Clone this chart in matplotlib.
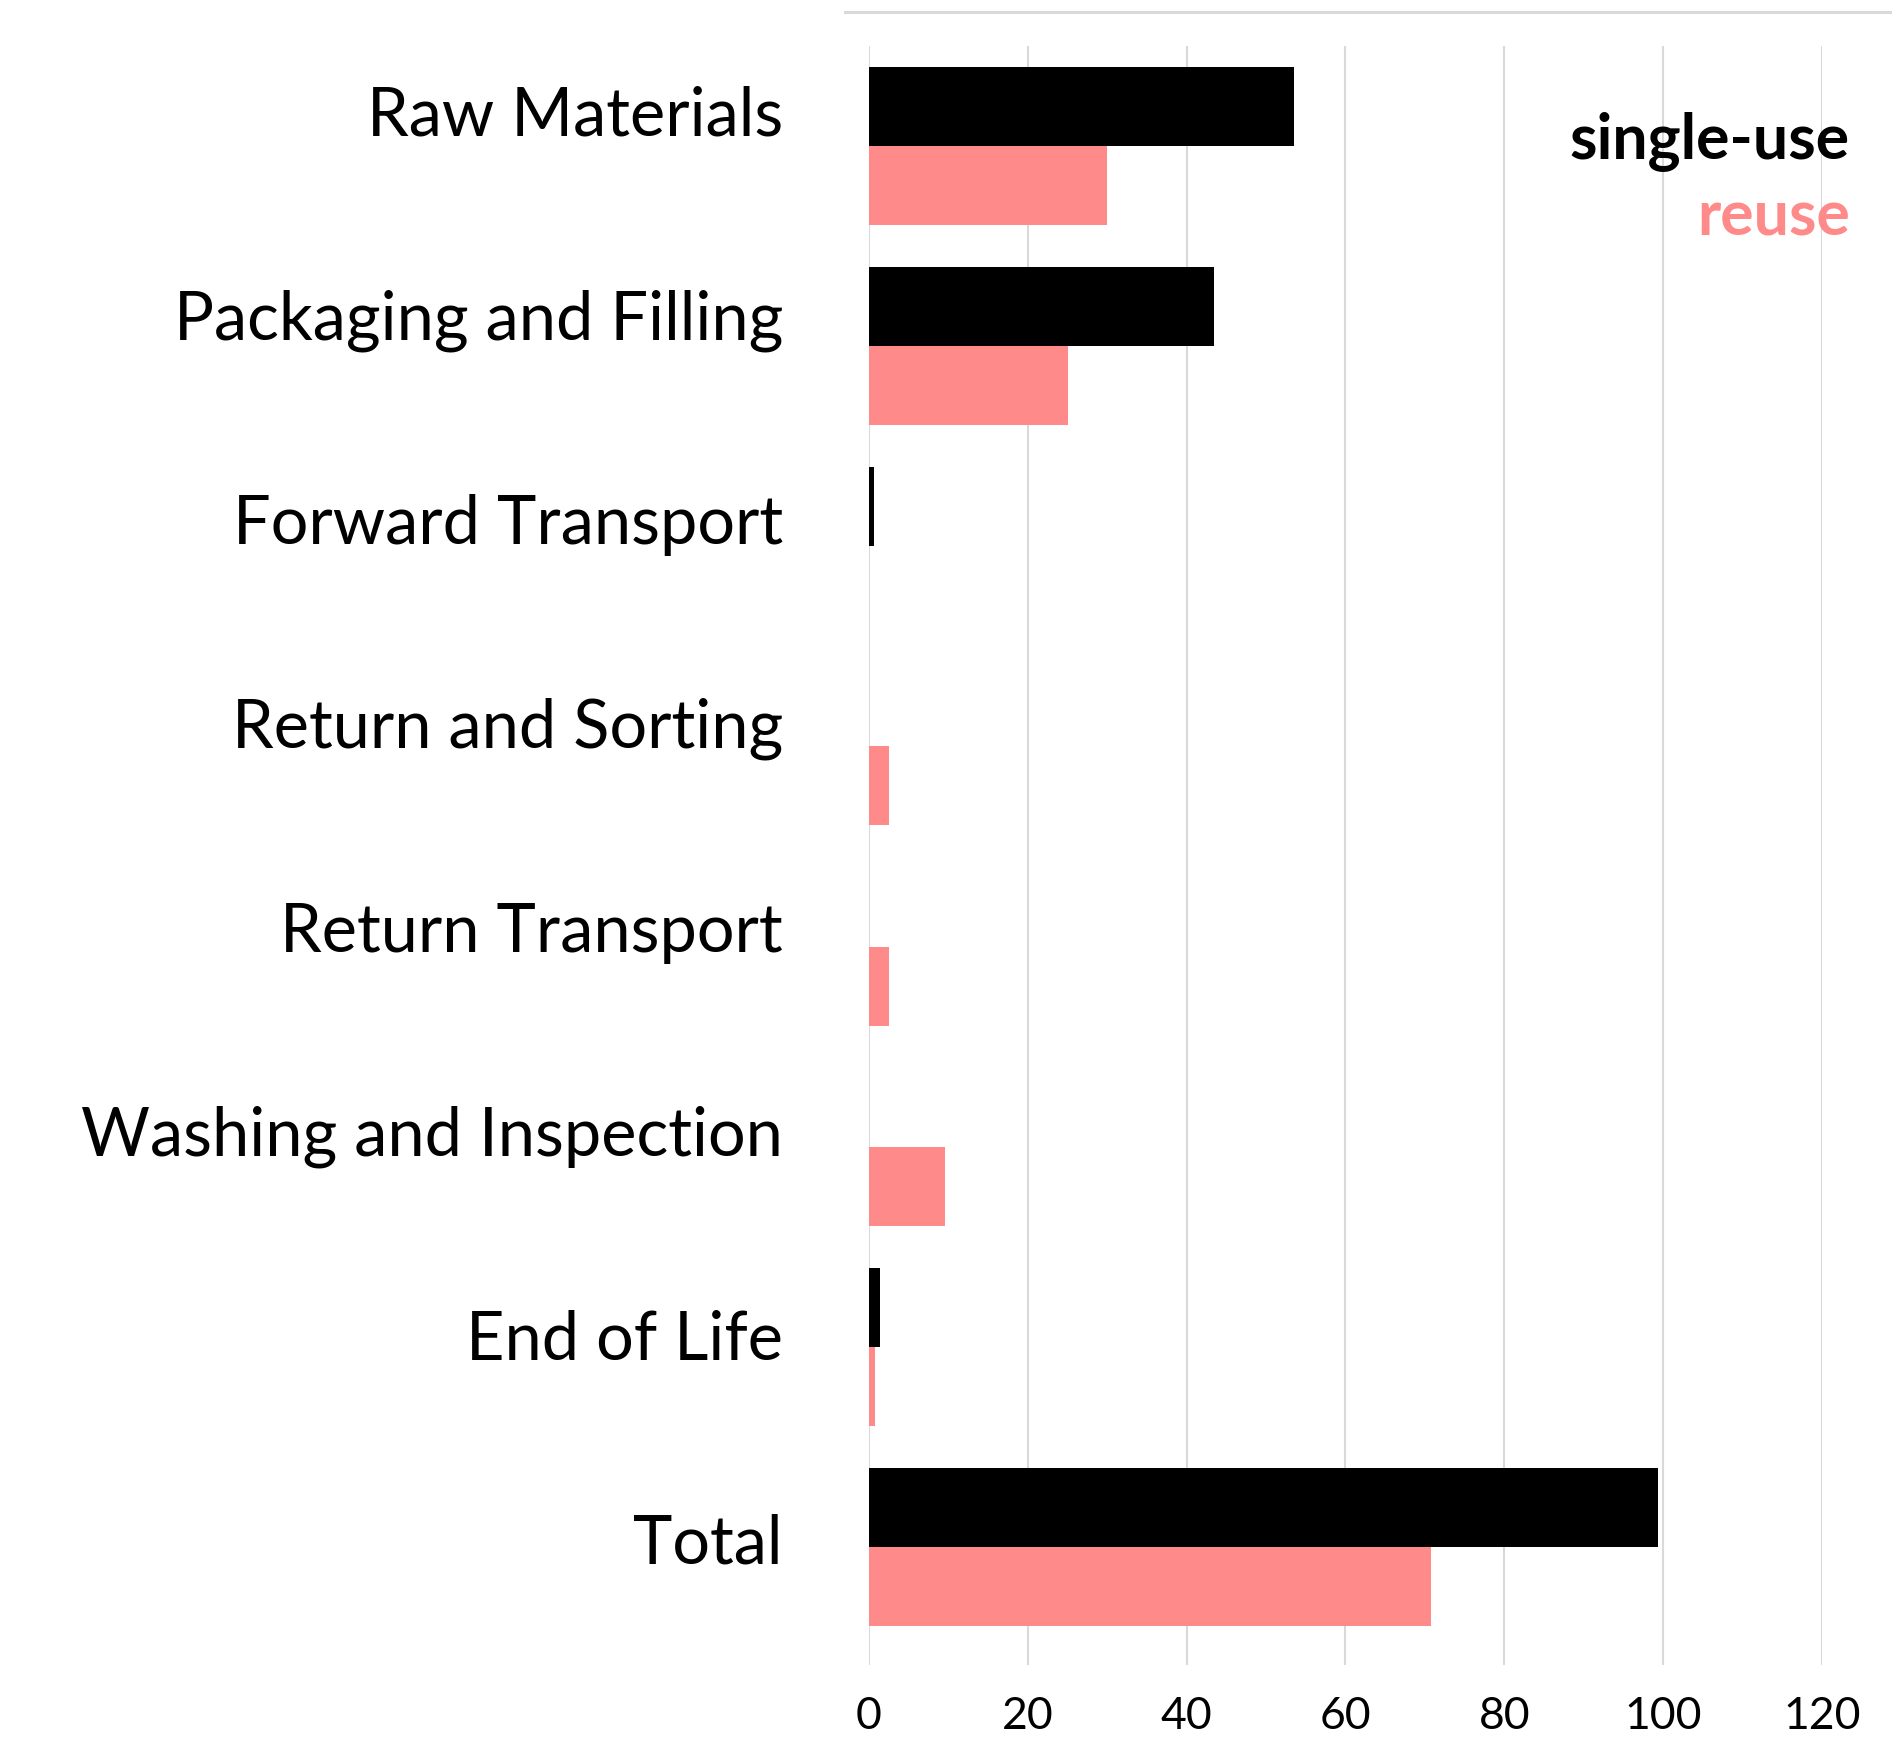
import matplotlib
matplotlib.use("Agg")
import matplotlib.pyplot as plt
from matplotlib.lines import Line2D
import numpy as np

stages = ["Raw Materials", "Packaging and Filling", "Forward Transport",
          "Return and Sorting", "Return Transport", "Washing and Inspection",
          "End of Life", "Total"]
single_use = [53.5, 43.4, 0.6, 0, 0, 0, 1.4, 99.3]
reuse = [30.0, 25.0, 0, 2.5, 2.5, 9.6, 0.7, 70.8]
xticks = [0, 20, 40, 60, 80, 100, 120]

black = "#000000"
pink = "#ff8a8a"
grid = "#d9d9d9"

plt.rcParams['font.family'] = ['Lato', 'DejaVu Sans']

fig = plt.figure(figsize=(18.92, 17.53), dpi=100)
ax = fig.add_axes([0.4593, 0.0502, 0.5037, 0.9236])

y = np.arange(len(stages))
h = 0.395
ax.barh(y - h / 2, single_use, height=h, color=black, zorder=3)
ax.barh(y + h / 2, reuse, height=h, color=pink, zorder=3)

ax.set_xlim(0, 120)
ax.set_ylim(len(stages) - 1 + 0.59, -0.5)
ax.set_xticks(xticks)
ax.set_xticklabels([str(t) for t in xticks], fontsize=32)
ax.grid(axis="x", color=grid, linewidth=1.5, zorder=0)
ax.set_axisbelow(True)

# labels sit a bit above the category centres, drifting slightly down the list
ax.set_yticks(y - 0.175 + y * 0.019)
ax.set_yticklabels(stages, fontsize=48)
ax.tick_params(axis="both", length=0)
ax.tick_params(axis="y", pad=62)
ax.tick_params(axis="x", pad=22)
for s in ax.spines.values():
    s.set_visible(False)

fig.add_artist(Line2D([845 / 1892, 1], [1 - 12 / 1753, 1 - 12 / 1753],
                      transform=fig.transFigure, color=grid, linewidth=2.2))

fig.text(1850 / 1892, 1 - 141 / 1753, "single-use", color=black, fontsize=45,
         fontweight="bold", ha="right", va="center")
fig.text(1850 / 1892, 1 - 217 / 1753, "reuse", color=pink, fontsize=45,
         fontweight="bold", ha="right", va="center")

fig.savefig("out.png", dpi=100)
